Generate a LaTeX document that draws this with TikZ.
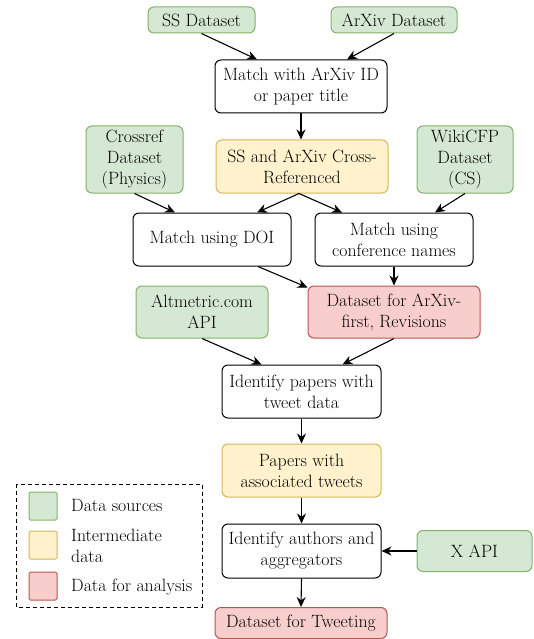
\documentclass[tikz,border=0pt]{standalone}
\usepackage{fontspec}
\usetikzlibrary{arrows.meta}
\definecolor{gfill}{HTML}{D5E8D4}\definecolor{gline}{HTML}{82B366}
\definecolor{yfill}{HTML}{FFF2CC}\definecolor{yline}{HTML}{D6B656}
\definecolor{rfill}{HTML}{F8CECC}\definecolor{rline}{HTML}{B85450}
\begin{document}
\begin{tikzpicture}[x=1pt,y=-1pt,
 base/.style={draw, rounded corners=6pt, line width=1pt, align=center, inner sep=0pt, font=\rmfamily\fontsize{17.8}{21}\selectfont},
 procbox/.style={base, fill=white, draw=black},
 srcbox/.style={base, fill=gfill, draw=gline},
 midbox/.style={base, fill=yfill, draw=yline},
 resbox/.style={base, fill=rfill, draw=rline},
 swatch/.style={line width=1pt, rounded corners=1.5pt, minimum width=28pt, minimum height=28pt, inner sep=0pt},
 legtext/.style={anchor=west, align=left, inner sep=0pt, font=\rmfamily\fontsize{17.8}{21}\selectfont},
 arr/.style={-{Stealth[length=10pt,width=9pt]}, line width=1.1pt}]
\useasboundingbox (0,0) rectangle (533,639);
% sources
\node[srcbox, minimum width=107pt, minimum height=26pt] (ss) at (201.5,20) {SS Dataset};
\node[srcbox, minimum width=126pt, minimum height=26pt] (arxiv) at (394,20) {ArXiv Dataset};
\node[procbox, minimum width=172pt, minimum height=53pt] (match) at (301,86.5) {Match with ArXiv ID\\or paper title};
\node[midbox, minimum width=172pt, minimum height=53pt] (cross) at (302,166.5) {SS and ArXiv Cross-\\Referenced};
\node[srcbox, minimum width=97pt, minimum height=67pt] (crossref) at (134.5,159.5) {Crossref\\Dataset\\(Physics)};
\node[srcbox, minimum width=96pt, minimum height=67pt] (wiki) at (465,159.5) {WikiCFP\\Dataset\\(CS)};
\node[procbox, minimum width=158pt, minimum height=53pt] (doi) at (212,239.5) {Match using DOI};
\node[procbox, minimum width=158pt, minimum height=53pt] (conf) at (394,239.5) {Match using\\conference names};
\node[srcbox, minimum width=132pt, minimum height=52pt] (alt) at (202,312) {Altmetric.com\\API};
\node[resbox, minimum width=172pt, minimum height=52pt] (first) at (394,312) {Dataset for ArXiv-\\first, Revisions};
\node[procbox, minimum width=159pt, minimum height=53pt] (ident) at (301.5,391.5) {Identify papers with\\tweet data};
\node[midbox, minimum width=159pt, minimum height=53pt] (papers) at (301.5,470.5) {Papers with\\associated tweets};
\node[procbox, minimum width=159pt, minimum height=54pt] (authors) at (301.5,551) {Identify authors and\\aggregators};
\node[srcbox, minimum width=115pt, minimum height=41pt] (xapi) at (474.5,551) {X API};
\node[resbox, minimum width=172pt, minimum height=31pt] (tweet) at (301,623) {Dataset for Tweeting};
% connectors
\draw[arr] (ss.south) -- ([xshift=-44pt]match.north);
\draw[arr] (arxiv.south) -- ([xshift=46pt]match.north);
\draw[arr] (match.south) -- ([xshift=-1pt]cross.north);
\draw[arr] (crossref.south) -- ([xshift=-37pt]doi.north);
\draw[arr] ([xshift=-3pt]cross.south) -- ([xshift=45pt]doi.north);
\draw[arr] ([xshift=-3pt]cross.south) -- ([xshift=-52pt]conf.north);
\draw[arr] (wiki.south) -- ([xshift=41pt]conf.north);
\draw[arr] ([xshift=46pt]doi.south) -- ([yshift=-2pt]first.north west);
\draw[arr] (conf.south) -- (first.north);
\draw[arr] (alt.south) -- ([xshift=-40pt]ident.north);
\draw[arr] (first.south) -- ([xshift=41pt]ident.north);
\draw[arr] (ident.south) -- (papers.north);
\draw[arr] (papers.south) -- (authors.north);
\draw[arr] (xapi.west) -- (authors.east);
\draw[arr] (authors.south) -- (tweet.north);
% legend
\draw[line width=1pt, dash pattern=on 4pt off 3pt] (16,484) rectangle (202,607);
\node[swatch, fill=gfill, draw=gline] (lg) at (43,506) {};
\node[swatch, fill=yfill, draw=yline] (ly) at (43,545) {};
\node[swatch, fill=rfill, draw=rline] (lr) at (43,586) {};
\node[legtext] (tg) at (71,505) {Data sources};
\node[legtext] (ty) at (71,546) {Intermediate\\data};
\node[legtext] (tr) at (71,587) {Data for analysis};
\end{tikzpicture}
\end{document}
